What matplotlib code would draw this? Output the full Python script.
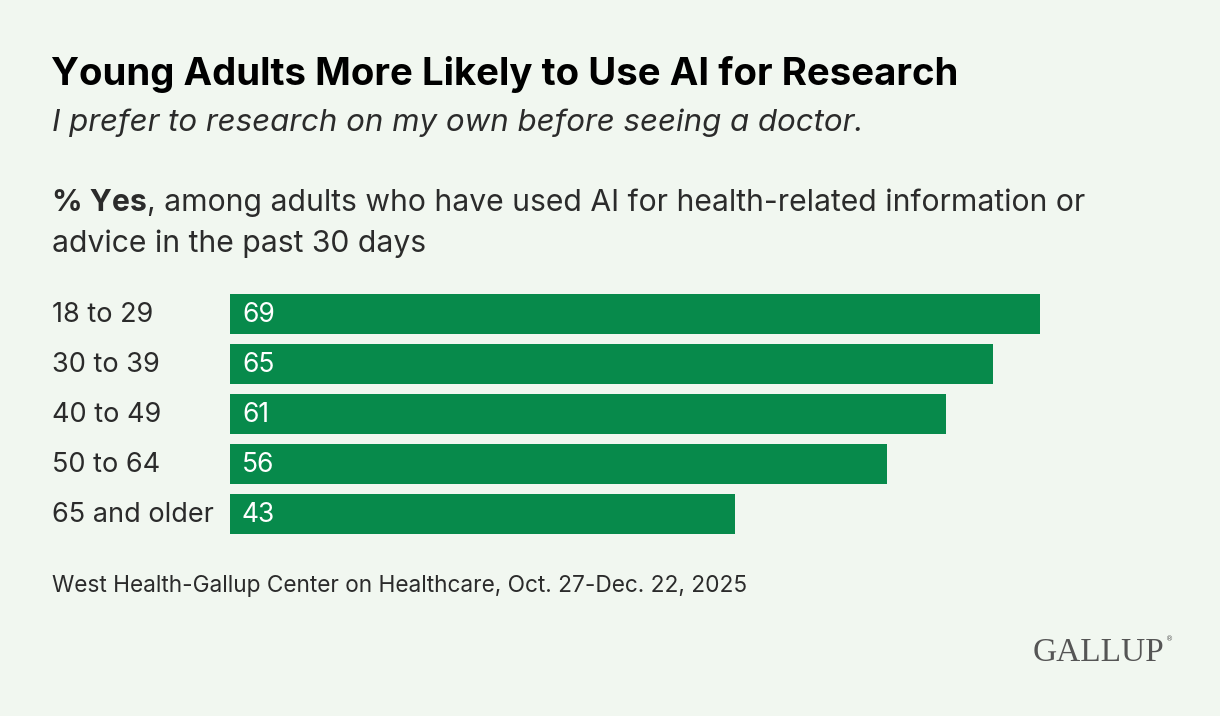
import matplotlib
matplotlib.use('Agg')
import matplotlib.pyplot as plt
import matplotlib.transforms as mtransforms

categories = ['18 to 29', '30 to 39', '40 to 49', '50 to 64', '65 and older']
values = [69, 65, 61, 56, 43]

bg = '#f1f7f0'
green = '#078a4b'
dark = '#2b2b2b'

plt.rcParams['font.family'] = ['Inter', 'DejaVu Sans']

W, H = 1220, 716
fig = plt.figure(figsize=(W / 100, H / 100), dpi=100, facecolor=bg)

def fx(px):
    return px / W

def fy(py):
    return 1 - py / H

ax = fig.add_axes([fx(230), fy(538.5), fx(1040) - fx(230), fy(288.5) - fy(538.5)])
ax.set_facecolor(bg)
ypos = list(range(len(categories)))
ax.barh(ypos, values, height=0.8, color=green)
ax.set_xlim(0, max(values))
ax.set_ylim(len(categories) - 0.5, -0.5)
ax.axis('off')

# small downward nudge so text sits where the reference has it
nudge = mtransforms.ScaledTranslation(0, -2 / 100, fig.dpi_scale_trans)
val_tr = ax.get_yaxis_transform() + mtransforms.ScaledTranslation(12 / 100, -2 / 100, fig.dpi_scale_trans)
lab_tr = mtransforms.blended_transform_factory(fig.transFigure, ax.transData) + nudge
for i, (c, v) in enumerate(zip(categories, values)):
    ax.text(0, i, str(v), color='white', fontsize=19, va='center', ha='left', transform=val_tr)
    ax.text(fx(52), i, c, color=dark, fontsize=19.5, va='center', ha='left', transform=lab_tr)

fig.text(fx(51), fy(85), 'Young Adults More Likely to Use AI for Research',
         fontsize=27.6, fontweight='bold', color='black', va='baseline')
fig.text(fx(52), fy(131), 'I prefer to research on my own before seeing a doctor.',
         fontsize=22.5, style='italic', color=dark, va='baseline')

renderer = fig.canvas.get_renderer()
t1 = fig.text(fx(52), fy(211), '% Yes', fontsize=21.7, fontweight='bold', color=dark, va='baseline')
bb = t1.get_window_extent(renderer)
fig.text(bb.x1 / W, fy(211), ', among adults who have used AI for health-related information or',
         fontsize=21.7, color=dark, va='baseline')
fig.text(fx(52), fy(252), 'advice in the past 30 days', fontsize=21.7, color=dark, va='baseline')

fig.text(fx(52), fy(592), 'West Health-Gallup Center on Healthcare, Oct. 27-Dec. 22, 2025',
         fontsize=16.3, color=dark, va='baseline')

fig.text(fx(1164), fy(661), 'GALLUP', fontsize=24, family='Liberation Serif', color='#555555',
         ha='right', va='baseline')
fig.text(fx(1166), fy(641), '®', fontsize=5, family='DejaVu Sans', color='#555555', ha='left', va='baseline')

fig.savefig('out.png', dpi=100, facecolor=bg)
